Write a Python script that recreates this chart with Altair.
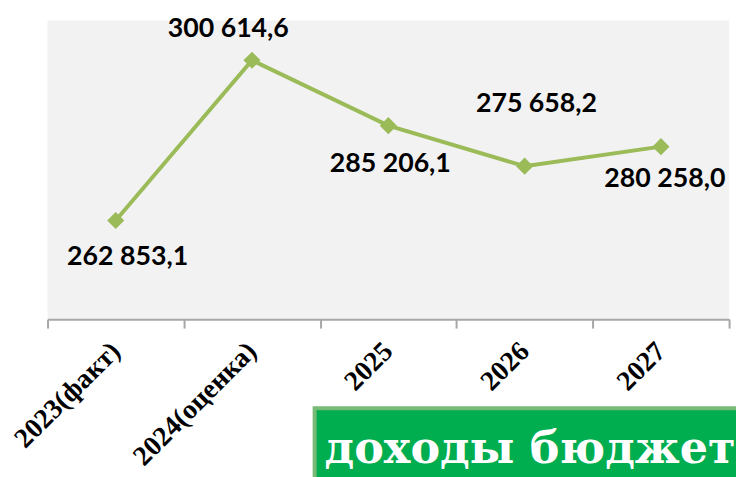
import altair as alt
import pandas as pd

years = ["2023(факт)", "2024(оценка)", "2025", "2026", "2027"]
values = [262853.1, 300614.6, 285206.1, 275658.2, 280258.0]
title_text = "доходы бюджета"

def ru(v):
    return f"{v:,.1f}".replace(",", " ").replace(".", ",")

df = pd.DataFrame({"year": years, "value": values, "label": [ru(v) for v in values]})

x_enc = alt.X("year:N", sort=years, title=None,
              scale=alt.Scale(type="band", paddingInner=0, paddingOuter=0),
              axis=alt.Axis(tickBand="extent", labelAngle=-45, labelAlign="right",
                            labelBaseline="middle", labelFont="Liberation Serif",
                            labelFontWeight="bold", labelFontSize=28, labelColor="#000000",
                            labelPadding=19, tickSize=9, tickWidth=2, tickColor="#A6A6A6",
                            domainColor="#A6A6A6", domainWidth=2, grid=False))
y_enc = alt.Y("value:Q", scale=alt.Scale(domain=[239600, 310000]), axis=None)

base = alt.Chart(df)

line = base.mark_line(color="#9BBB59", strokeWidth=4).encode(x=x_enc, y=y_enc)
pts = base.mark_point(shape="diamond", filled=True, size=300, color="#9BBB59", opacity=1).encode(x=x_enc, y=y_enc)

offsets = {
    "2023(факт)": (12, 37),
    "2024(оценка)": (-24, -32),
    "2025": (2, 39),
    "2026": (12, -63),
    "2027": (4, 33),
}
label_layers = []
for yr, (dx, dy) in offsets.items():
    label_layers.append(
        base.transform_filter(alt.datum.year == yr)
        .mark_text(font="Lato", fontWeight="bold", fontSize=27, color="#000000",
                   align="center", baseline="middle", dx=dx, dy=dy)
        .encode(x=x_enc, y=y_enc, text="label:N")
    )

box_df = pd.DataFrame({"t": [title_text]})
box = alt.Chart(box_df).mark_rect(fill="#00AD4F", stroke="#77BB77", strokeWidth=4).encode(
    x=alt.value(270), x2=alt.value(900), y=alt.value(392), y2=alt.value(520))
box_text = alt.Chart(box_df).mark_text(font="DejaVu Serif", fontWeight="bold", fontSize=45,
                                       color="#FFFFFF", align="left", baseline="alphabetic").encode(
    x=alt.value(280), y=alt.value(447), text="t:N")

chart = alt.layer(line, pts, *label_layers, box, box_text).properties(
    width=689, height=302,
    background="#FFFFFF",
    autosize=alt.AutoSizeParams(type="none"),
    padding={"left": 40, "top": 10, "right": 7, "bottom": 157},
).configure_view(fill="#F2F2F2", stroke=None)

chart.save("out.html", embed_options={"renderer": "svg", "actions": False})
